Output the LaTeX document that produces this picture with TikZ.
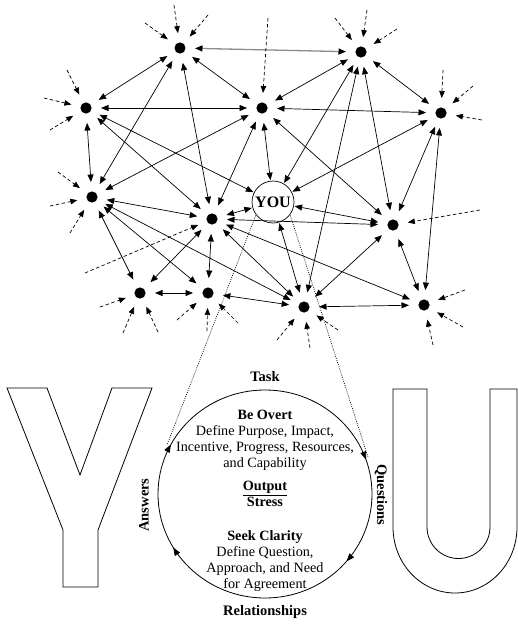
\documentclass[tikz,border=0pt]{standalone}
\usepackage{fontspec}
\setmainfont{Liberation Serif}
\usetikzlibrary{arrows.meta,decorations.markings,calc}

\tikzset{
  hub/.style={circle, inner sep=0pt, outer sep=0pt, minimum size=30pt,
    path picture={\fill[black] (path picture bounding box.center) circle (5.6pt);}},
  selfnode/.style={circle, draw, line width=0.7pt, minimum size=42pt, inner sep=0pt,
    outer sep=1pt, font=\fontsize{16}{16}\selectfont\bfseries},
  link/.style={line width=0.7pt, {Triangle[length=7.5pt,width=6pt]}-{Triangle[length=7.5pt,width=6pt]}},
  graylink/.style={line width=1.3pt, draw=black!45,
    {Triangle[length=7.5pt,width=6pt,color=black]}-{Triangle[length=7.5pt,width=6pt,color=black]}},
  feeder/.style={line width=0.7pt, dash pattern=on 3.5pt off 2.5pt, -{Triangle[length=7pt,width=5.5pt]}},
  tether/.style={line width=0.7pt, dash pattern=on 0.9pt off 1.3pt},
  blurb/.style={font=\fontsize{14.2}{16}\selectfont, align=center, inner sep=0pt},
  tag/.style={font=\fontsize{14.5}{16}\selectfont\bfseries, inner sep=0pt},
  letterline/.style={line width=0.8pt, line join=miter}
}

\begin{document}
\begin{tikzpicture}[x=1pt,y=-1pt]
\useasboundingbox (0,0) rectangle (518,626);

% network members
\node[hub] (A) at (180,48) {};
\node[hub] (B) at (361,52) {};
\node[hub] (C) at (86,108) {};
\node[hub] (D) at (262,108) {};
\node[hub] (E) at (441,113) {};
\node[hub] (F) at (92,197) {};
\node[hub] (G) at (212,219) {};
\node[hub] (H) at (393,225) {};
\node[hub] (I) at (140,293) {};
\node[hub] (J) at (208,293) {};
\node[hub] (K) at (304,307) {};
\node[hub] (L) at (424,305) {};
\node[selfnode] (you) at (273,202) {YOU};

% two-way relationships
\draw[graylink] (A) -- (B);
\foreach \s/\t in {A/C, A/D, A/F, A/G, B/D, B/E, B/you, B/K, B/H,
    C/D, C/F, C/G, C/you, D/E, D/F, D/G, D/you, D/H, E/you, E/H, E/L,
    F/G, F/I, F/J, F/K, G/you, G/H, G/I, G/J, G/K, G/L,
    you/H, you/K, H/K, H/L, I/J, J/K, K/L}
  \draw[link] (\s) -- (\t);

% influences arriving from outside the network
\foreach \t/\n/\x/\y in {
    A/a1/145/23, A/a2/174/5, A/a3/208/15,
    B/b1/335/18, B/b2/367/10, B/b3/397/29,
    C/c1/67/70, C/c2/44/98, C/c3/50/130,
    D/d1/268/18,
    E/e1/443/70, E/e2/473/86, E/e3/482/120,
    F/f1/58/172, F/f2/50/206, F/f3/70/233,
    G/g1/85/273,
    H/h1/480/210,
    I/i1/100/307, I/i2/123/333, I/i3/158/332,
    J/j1/177/320, J/j2/207/331, J/j3/238/323,
    K/k1/277/340, K/k2/310/348, K/k3/338/330,
    L/l1/465/290, L/l2/463/327, L/l3/433/345}
  {\coordinate (\n) at (\x,\y);
   \draw[feeder] (\n) -- (\t);}

% the big Y and U
\draw[letterline] (7,388) -- (47,388) -- (80,475) -- (112,388) -- (152,388)
  -- (98,530) -- (98,587) -- (63,587) -- (63,530) -- cycle;
\draw[letterline] (393,389) -- (393,527)
  arc[start angle=180, end angle=0, x radius=62, y radius=66]
  -- (517,389) -- (490,389) -- (490,527)
  arc[start angle=0, end angle=180, radius=31.5]
  -- (427,389) -- cycle;

% the conversation loop
\coordinate (loopc) at (265,494);
\draw[line width=0.8pt, postaction={decorate}, decoration={markings,
    mark=at position 0.197 with {\arrow{Triangle[length=8pt,width=6pt]}},
    mark=at position 0.361 with {\arrow{Triangle[length=8pt,width=6pt]}},
    mark=at position 0.665 with {\arrow{Triangle[length=8pt,width=6pt]}},
    mark=at position 0.828 with {\arrow{Triangle[length=8pt,width=6pt]}}}]
  (265,390) arc[start angle=-90, end angle=270, x radius=107, y radius=104];
\coordinate (ans) at (167,445);
\coordinate (qst) at (368,457);
\draw[tether] (you.218) -- (ans);
\draw[tether] (you.322) -- (qst);

% loop labels
\node[tag] (task) at (265,377) {Task};
\node[tag] (rel) at (265,612) {Relationships};
\node[tag, rotate=90] (answers) at (144,505) {Answers};
\node[tag, rotate=-90] (questions) at (381,495) {Questions};

% loop contents
\node[blurb] (overt) at (265,440) {\textbf{Be Overt}\\Define Purpose, Impact,\\Incentive, Progress, Resources,\\and Capability};
\node[blurb] (ratio) at (265,495) {\bfseries\begin{tabular}{@{}c@{}}Output\\\hline Stress\end{tabular}};
\node[blurb] (clarity) at (265,561) {\textbf{Seek Clarity}\\Define Question,\\Approach, and Need\\for Agreement};
\end{tikzpicture}
\end{document}
